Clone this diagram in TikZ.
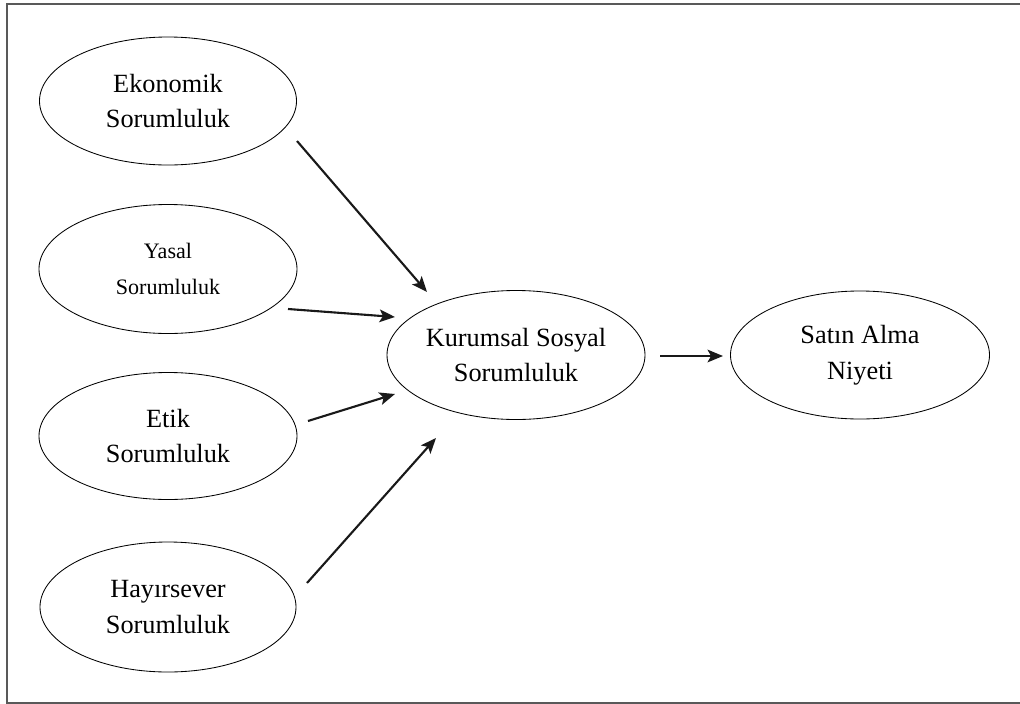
\documentclass[tikz,border=0pt]{standalone}
\usepackage{fontspec}
\setmainfont{Liberation Serif}
\usetikzlibrary{shapes.geometric,arrows.meta}
\begin{document}
\begin{tikzpicture}[x=0.025cm,y=-0.025cm,
  oval/.style={draw=black, line width=0.6pt, ellipse, inner sep=0pt,
    align=center, font=\fontsize{18.7}{25.5}\selectfont},
  oval small/.style={oval, font=\fontsize{15.7}{25.5}\selectfont},
  arr/.style={line width=1.5pt, draw=black!90,
    -{Stealth[length=11pt,width=9pt,inset=2.5pt]}},
  frame/.style={line width=1.1pt, draw=black!65}]
\useasboundingbox (0,0) rectangle (1020,704);
\draw[frame] (1020,4) -- (7,4) -- (7,703) -- (1020,703);

\node[oval, minimum width=257*0.025cm, minimum height=128*0.025cm] (ek) at (168,101) {Ekonomik\\Sorumluluk};
\node[oval small, minimum width=258*0.025cm, minimum height=129*0.025cm] (ya) at (168,269) {Yasal\\Sorumluluk};
\node[oval, minimum width=258*0.025cm, minimum height=127*0.025cm] (et) at (168,436) {Etik\\Sorumluluk};
\node[oval, minimum width=256*0.025cm, minimum height=130*0.025cm] (ha) at (168,607) {Hayırsever\\Sorumluluk};
\node[oval, minimum width=258*0.025cm, minimum height=129*0.025cm] (ks) at (516,355) {Kurumsal Sosyal\\Sorumluluk};
\node[oval, minimum width=259*0.025cm, minimum height=128*0.025cm] (sa) at (860,355) {Satın Alma\\Niyeti};

\coordinate (a1s) at (297,141); \coordinate (a1e) at (427,292);
\coordinate (a2s) at (288,309); \coordinate (a2e) at (395,317);
\coordinate (a3s) at (308,421); \coordinate (a3e) at (395,394);
\coordinate (a4s) at (307,583); \coordinate (a4e) at (436,438);
\coordinate (a5s) at (660,356); \coordinate (a5e) at (723,356);

\draw[arr] (a1s) -- (a1e);
\draw[arr] (a2s) -- (a2e);
\draw[arr] (a3s) -- (a3e);
\draw[arr] (a4s) -- (a4e);
\draw[arr] (a5s) -- (a5e);
\end{tikzpicture}
\end{document}
